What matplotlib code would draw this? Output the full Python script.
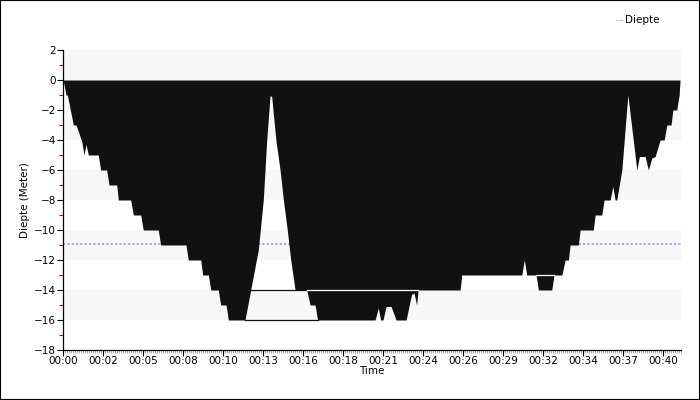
import math

import matplotlib
matplotlib.use("Agg")
import matplotlib.pyplot as plt
from matplotlib.lines import Line2D
from matplotlib.patches import Rectangle
from matplotlib.ticker import FixedLocator, FuncFormatter, MultipleLocator

# dive profile, time in minutes, depth in meters
time_min = [
    0.00, 0.03, 0.20, 0.29, 0.69, 0.87, 1.25, 1.40, 1.53, 1.69, 2.35, 2.51,
    2.91, 3.07, 3.58, 3.69, 4.51, 4.69, 5.18, 5.35, 6.35, 6.51, 8.20, 8.35,
    9.18, 9.31, 9.69, 9.85, 10.35, 10.51, 10.87, 11.02, 12.13, 12.51, 13.02,
    13.35, 13.58, 13.80, 13.91, 14.20, 14.47, 14.69, 14.95, 15.18, 15.47,
    16.25, 16.47, 16.80, 16.97, 20.80, 21.02, 21.17, 21.33, 21.53, 21.87,
    22.20, 22.87, 23.23, 23.40, 23.57, 23.67, 26.47, 26.58, 30.58, 30.75,
    30.91, 31.53, 31.69, 32.58, 32.73, 33.25, 33.47, 33.69, 33.80, 34.35,
    34.47, 35.35, 35.47, 35.91, 36.07, 36.47, 36.65, 36.80, 36.91, 37.25,
    37.65, 38.25, 38.42, 38.80, 39.02, 39.25, 39.47, 39.80, 40.07, 40.25,
    40.53, 40.65, 40.91, 41.07, 41.13,
]
depth_m = [
    0, -0.1, -1, -1, -3, -3, -4.1, -5, -4.3, -5, -5, -6,
    -6, -7, -7, -8, -8, -9, -9, -10, -10, -11, -11, -12,
    -12, -13, -13, -14, -14, -15, -15, -16, -16, -14, -11.3,
    -8, -4, -1.05, -1.1, -4.1, -6, -8, -10, -12, -14,
    -14, -15, -15, -16, -16, -15.2, -16, -16, -15.1, -15.1,
    -16, -16, -14.3, -14.2, -15, -14, -14, -13, -13, -12,
    -13, -13, -14, -14, -13, -13, -12, -12, -11, -11,
    -10, -10, -9, -9, -8, -8, -7.1, -8, -8, -6,
    -1, -6, -5.1, -5.1, -6, -5.2, -5.1, -4, -4, -3,
    -3, -2, -2, -1, 0,
]

# stray outline edges of the area polygon
dark_edge_start = [12.51, 12.13]
dark_edge_end = [16.25, 16.97]
dark_edge_depth = [-14, -16]
light_edge_start = [16.25, 31.53]
light_edge_end = [23.67, 32.73]
light_edge_depth = [-14, -13]

avg_depth = -10.9
y_ticks = list(range(-18, 3, 2))
band_ranges = [(0, 2), (-4, -2), (-8, -6), (-12, -10), (-16, -14)]
series_label = "Diepte"

plt.rcParams["font.family"] = ["DejaVu Sans"]

fig = plt.figure(figsize=(7, 4), dpi=100)
fig.patch.set_facecolor("white")
fig.patches.append(Rectangle((0, 0), 1, 1, transform=fig.transFigure, fill=False,
                             edgecolor="black", linewidth=1.5, zorder=10))
ax = fig.add_axes([0.09, 0.125, 0.883, 0.75])

for lo, hi in band_ranges:
    ax.axhspan(lo, hi, color="#F7F7F7", zorder=0, linewidth=0)

ax.fill_between(time_min, 0, depth_m, color="#111111", linewidth=0, zorder=2)
ax.axhline(avg_depth, color="#9A9AF2", linestyle=(0, (1.2, 1.2)), linewidth=1.3, zorder=1)

for s, e, d in zip(dark_edge_start, dark_edge_end, dark_edge_depth):
    ax.plot([s, e], [d, d], color="#111111", linewidth=0.9, zorder=3)
for s, e, d in zip(light_edge_start, light_edge_end, light_edge_depth):
    ax.plot([s, e], [d, d], color="white", linewidth=0.9, zorder=3)

ax.set_xlim(0, time_min[-1] + 0.07)
ax.set_ylim(-18, 2)

major_x = [i * 8 / 3 for i in range(16)]
ax.xaxis.set_major_locator(FixedLocator(major_x))
ax.xaxis.set_major_formatter(FuncFormatter(lambda v, _: f"00:{int(math.floor(v + 1e-6)):02d}"))
ax.xaxis.set_minor_locator(MultipleLocator(8 / 3 / 20))
ax.yaxis.set_major_locator(FixedLocator(y_ticks))
ax.yaxis.set_minor_locator(MultipleLocator(1))

ax.tick_params(axis="both", which="major", direction="out", length=4, width=0.8,
               labelsize=7.5, colors="black", pad=1)
ax.tick_params(axis="x", which="major", pad=0)
ax.tick_params(axis="x", which="minor", direction="out", length=2, width=0.5, color="#888888")
ax.tick_params(axis="y", which="minor", direction="out", length=3, width=0.8, color="#CC0000")

for side in ("top", "right"):
    ax.spines[side].set_visible(False)
for side in ("left", "bottom"):
    ax.spines[side].set_color("black")
    ax.spines[side].set_linewidth(0.9)

ax.set_xlabel("Time", fontsize=7.5, labelpad=0)
ax.set_ylabel("Diepte (Meter)", fontsize=7.5)
ax.yaxis.set_label_coords(-0.053, 0.5)

handle = Line2D([0], [0], color="#C8C8C8", linewidth=0.8)
fig.legend([handle], [series_label], loc="upper right", bbox_to_anchor=(0.955, 0.985),
           frameon=False, fontsize=7.5, handlelength=0.5, handletextpad=0.3)

fig.savefig("out.png", dpi=100, facecolor="white")
plt.close(fig)
